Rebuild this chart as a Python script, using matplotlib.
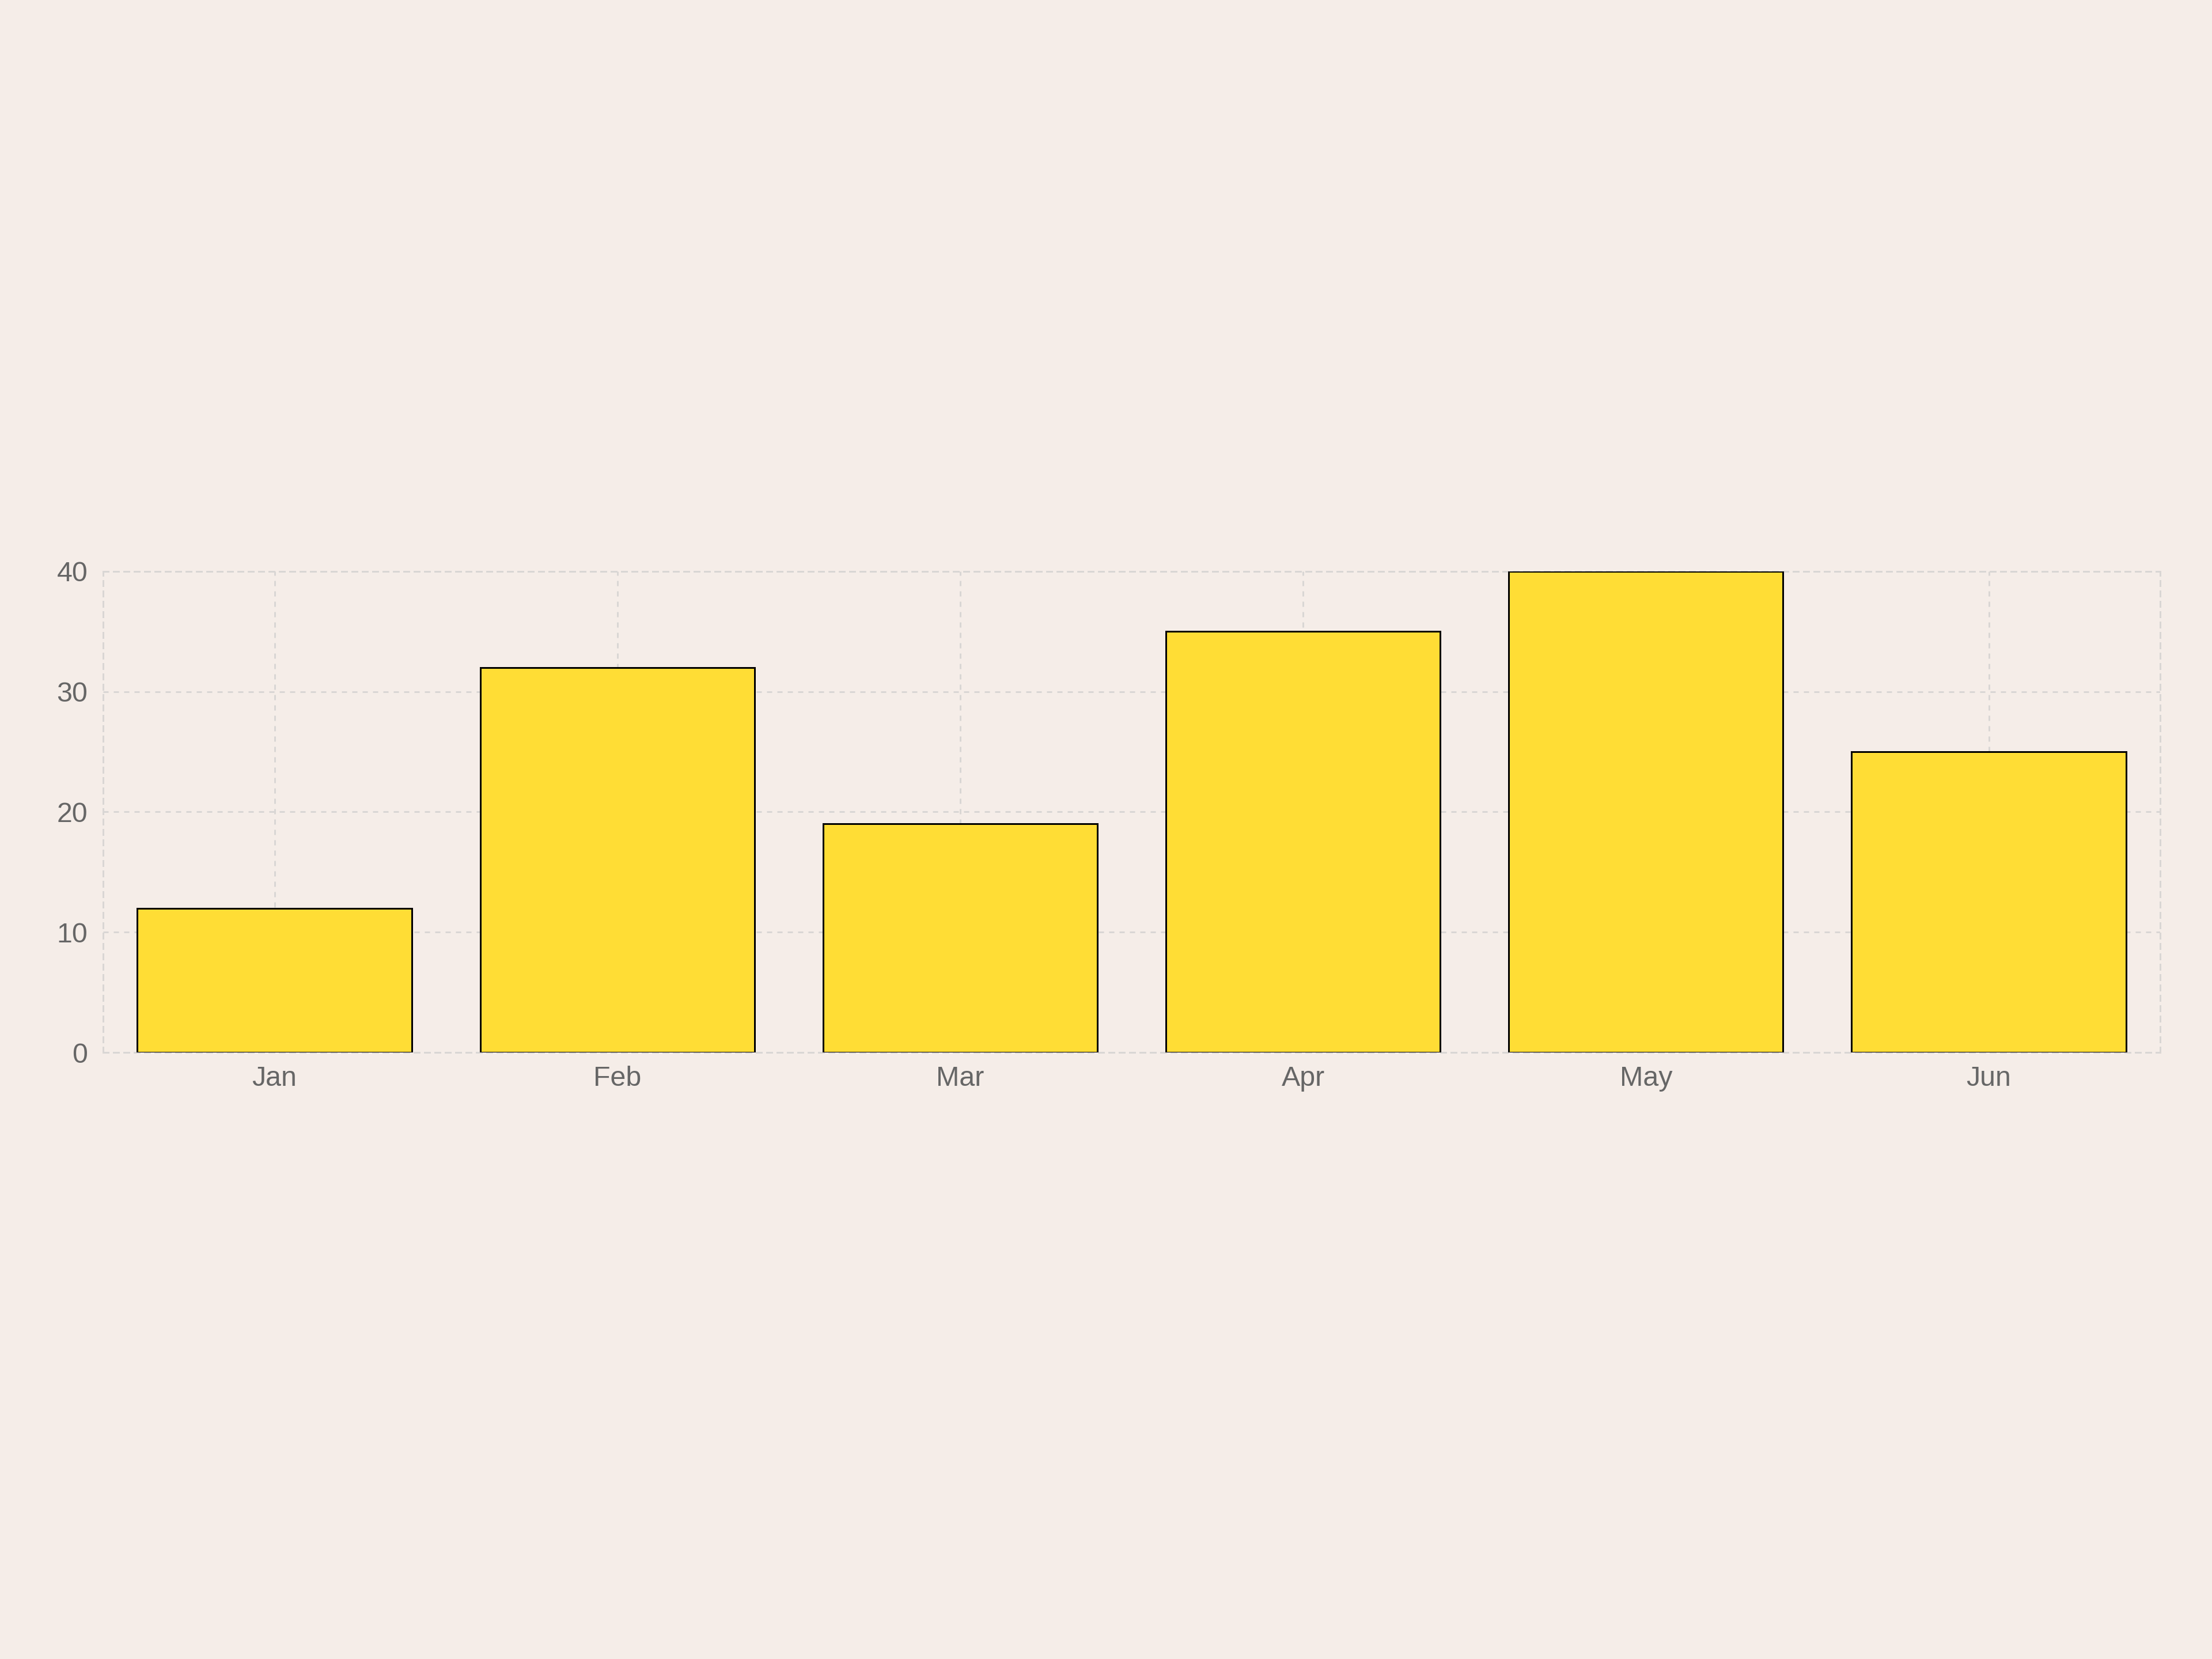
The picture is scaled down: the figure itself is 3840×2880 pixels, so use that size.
import matplotlib
matplotlib.use("Agg")
import matplotlib.pyplot as plt

# monthly values
months = ["Jan", "Feb", "Mar", "Apr", "May", "Jun"]
values = [12, 32, 19, 35, 40, 25]
y_ticks = [0, 10, 20, 30, 40]

bg = "#f5ede8"
grid_col = "#d9d6d4"

plt.rcParams["font.family"] = ["Liberation Sans", "DejaVu Sans"]

fig = plt.figure(figsize=(16, 12), dpi=240, facecolor=bg)
ax = fig.add_axes([0.0466, 0.3656, 0.93, 0.29])
ax.set_facecolor(bg)

x = range(len(months))
ax.bar(x, values, width=0.8, color="#ffdd35", edgecolor="black", linewidth=0.9, zorder=3)

ax.set_xlim(-0.5, len(months) - 0.5)
ax.set_ylim(0, 40)
ax.set_xticks(list(x))
ax.set_xticklabels(months)
ax.set_yticks(y_ticks)

ax.grid(True, color=grid_col, linestyle=(0, (3, 3)), linewidth=0.9, zorder=0)
for side in ["left", "right", "top", "bottom"]:
    ax.spines[side].set_color(grid_col)
    ax.spines[side].set_linestyle((0, (3, 3)))
    ax.spines[side].set_linewidth(0.9)
    ax.spines[side].set_zorder(0)

ax.tick_params(axis="both", length=0, labelsize=14.5, labelcolor="#666666")
ax.tick_params(axis="y", pad=8)
ax.tick_params(axis="x", pad=7)

fig.savefig("out.png", dpi=240, facecolor=bg)
